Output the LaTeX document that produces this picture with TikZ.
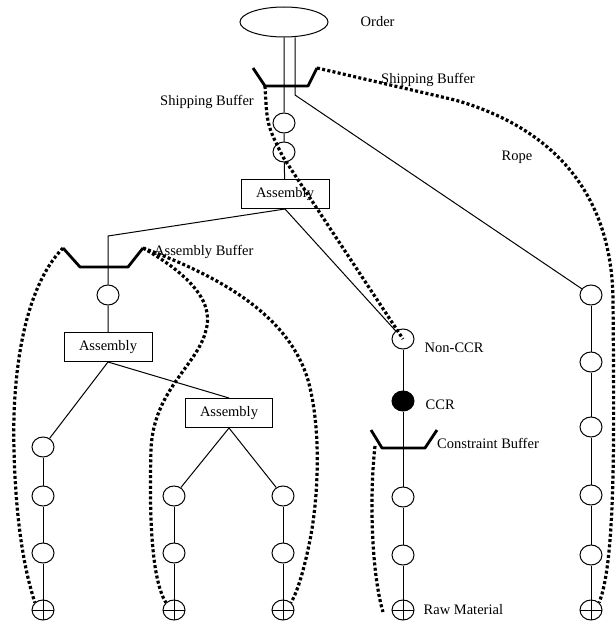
\documentclass[tikz,border=0pt]{standalone}
\usepackage{fontspec}
\setmainfont{Liberation Serif}
\usetikzlibrary{shapes.geometric,positioning}

\begin{document}
\begin{tikzpicture}[x=1pt, y=-1pt,
    stn/.style={draw, ellipse, line width=1pt, minimum width=22pt, minimum height=20pt, inner sep=0pt, fill=white},
    ccrn/.style={stn, fill=black},
    raw/.style={stn, path picture={\draw[line width=1pt]
        (path picture bounding box.north) -- (path picture bounding box.south)
        (path picture bounding box.west) -- (path picture bounding box.east);}},
    asm/.style={draw, line width=1pt, minimum width=88pt, minimum height=29pt, inner sep=2pt, fill=white,
        font=\fontsize{14.5}{17}\selectfont},
    lab/.style={font=\fontsize{14.5}{17}\selectfont, inner sep=0pt},
    ln/.style={line width=1pt},
    buf/.style={line width=2.8pt, line join=round},
    rope/.style={line width=3.2pt, dash pattern=on 3pt off 2.3pt}]
  \useasboundingbox (0,0) rectangle (615,623);

  \node[draw, ellipse, line width=1pt, minimum width=88pt, minimum height=30pt] (order) at (284,22) {};
  \node[lab, right=32pt of order] (lorder) {Order};

  \coordinate (sbtl) at (253,68);
  \coordinate (sbbl) at (265,86);
  \coordinate (sbbr) at (308,86);
  \coordinate (sbtr) at (317,68);
  \coordinate (rt) at (295,95);

  \node[stn] (s1) at (284,123) {};
  \node[stn] (s2) at (284,152) {};
  \node[asm] (a1) at (285,194) {Assembly};
  \coordinate (aj) at (108,236);

  \coordinate (abtl) at (63,248);
  \coordinate (abbl) at (80,267);
  \coordinate (abbr) at (128,267);
  \coordinate (abtr) at (143,248);

  \node[stn] (b1) at (108,295) {};
  \node[asm] (a3) at (108,347) {Assembly};
  \node[asm, minimum width=87pt] (a2) at (229,413) {Assembly};

  \node[stn] (l1) at (43,447) {};
  \node[stn] (l2) at (43,496) {};
  \node[stn] (l3) at (43,553) {};
  \node[raw] (lp) at (43,610) {};

  \node[stn] (m1) at (174,496) {};
  \node[stn] (m2) at (174,553) {};
  \node[raw] (mp) at (174,610) {};

  \node[stn] (k1) at (283,496) {};
  \node[stn] (k2) at (283,553) {};
  \node[raw] (kp) at (283,610) {};

  \node[stn] (ncc) at (403,339) {};
  \node[ccrn] (ccr) at (403,401) {};
  \coordinate (cbtl) at (371,430);
  \coordinate (cbbl) at (382,448);
  \coordinate (cbbr) at (425,448);
  \coordinate (cbtr) at (437,430);
  \node[stn] (c1) at (403,497) {};
  \node[stn] (c2) at (403,555) {};
  \node[raw] (cp) at (403,610) {};

  \node[stn] (r1) at (591,295) {};
  \node[stn] (r2) at (591,362) {};
  \node[stn] (r3) at (591,427) {};
  \node[stn] (r4) at (591,495) {};
  \node[stn] (r5) at (591,555) {};
  \node[raw] (rp) at (591,610) {};

  \draw[ln] (order) -- (s1) -- (s2) -- (a1);
  \draw[ln] (order.south -| rt) -- (rt) -- (r1);
  \draw[ln] (a1.south) -- (aj) -- (b1) -- (a3);
  \draw[ln] (a1.south) -- (ncc);
  \draw[ln] (a3.south) -- (l1);
  \draw[ln] (a3.south) -- (a2.north);
  \draw[ln] (a2.south) -- (m1);
  \draw[ln] (a2.south) -- (k1);
  \draw[ln] (l1) -- (l2) -- (l3) -- (lp);
  \draw[ln] (m1) -- (m2) -- (mp);
  \draw[ln] (k1) -- (k2) -- (kp);
  \draw[ln] (ncc) -- (ccr) -- (c1) -- (c2) -- (cp);
  \draw[ln] (r1) -- (r2) -- (r3) -- (r4) -- (r5) -- (rp);

  \draw[buf] (sbtl) -- (sbbl) -- (sbbr) -- (sbtr);
  \draw[buf] (abtl) -- (abbl) -- (abbr) -- (abtr);
  \draw[buf] (cbtl) -- (cbbl) -- (cbbr) -- (cbtr);

  \node[lab, anchor=west] (lship) at (381,80) {Shipping Buffer};
  \node[lab, anchor=east] (lshipb) at (254,102) {Shipping Buffer};
  \node[lab] (lrope) at (517,157) {Rope};
  \node[lab, anchor=west] (lasm) at (154,252) {Assembly Buffer};
  \node[lab, right=10pt of ncc, yshift=-9pt] (lncc) {Non-CCR};
  \node[lab, right=11pt of ccr, yshift=-4pt] (lccr) {CCR};
  \node[lab, anchor=west] (lcb) at (437,443) {Constraint Buffer};
  \node[lab, right=9pt of cp] (lraw) {Raw Material};

  \coordinate (fst) at (375,446);
  \coordinate (fend) at (383,612);
  \draw[rope] (sbtr) -- (455,100) .. controls (560,130) and (612,200) .. (613,300)
      .. controls (614,430) and (616,560) .. (rp.north east);
  \draw[rope] (sbbl) .. controls (267,125) .. (283,157) -- (ncc.center);
  \draw[rope] (abtl) .. controls (22,290) and (12,380) .. (14,450)
      .. controls (16,530) and (26,575) .. (lp.north west);
  \draw[rope] (abtr) .. controls (185,272) and (215,300) .. (206,330)
      .. controls (198,365) and (153,390) .. (151,450)
      .. controls (149,520) and (152,580) .. (mp.north west);
  \draw[rope] (abtr) .. controls (230,280) and (290,320) .. (308,380)
      .. controls (322,430) and (318,500) .. (310,540)
      .. controls (304,570) and (298,590) .. (kp.north east);
  \draw[rope] (fst) .. controls (369,500) and (372,575) .. (fend);
\end{tikzpicture}
\end{document}
